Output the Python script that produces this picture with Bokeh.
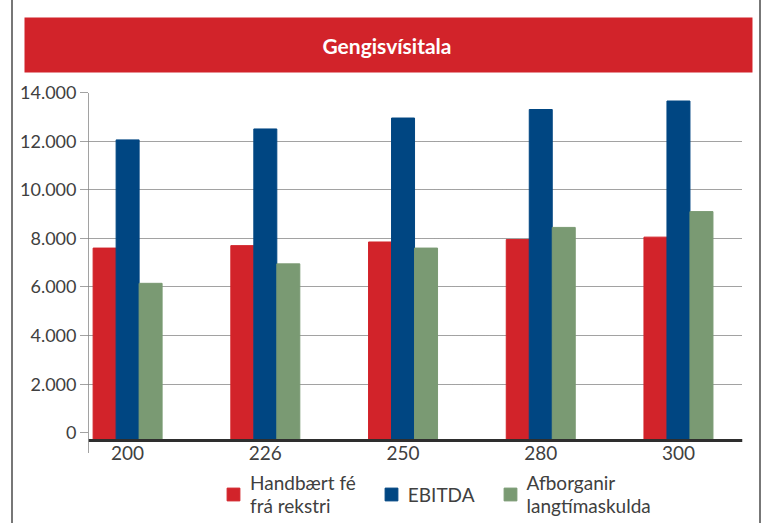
from bokeh.plotting import figure
from bokeh.models import (ColumnDataSource, Range1d, FixedTicker, Legend, LegendItem, Title)
from bokeh.transform import dodge
from bokeh.embed import file_html
from bokeh.resources import INLINE

# ---- data ----
title_text = "Gengisvísitala"
categories = ["200", "226", "250", "280", "300"]
handbaert = [7600, 7700, 7850, 7950, 8050]
ebitda = [12050, 12500, 12950, 13300, 13650]
afborganir = [6150, 6950, 7600, 8450, 9100]
series_names = ["Handbært fé\nfrá rekstri", "EBITDA", "Afborganir\nlangtímaskulda"]
y_ticks = [0, 2000, 4000, 6000, 8000, 10000, 12000, 14000]

RED = "#d2232a"
BLUE = "#004682"
GREEN = "#7a9a73"
TXT = "#404040"
GRID = "#444444"

xs = list(range(len(categories)))
src = ColumnDataSource(dict(x=xs, h=handbaert, e=ebitda, a=afborganir))

Y0 = -310        # axis baseline slightly below zero, as in the reference
Y_START = -3690  # room below the axis for tick labels and legend
BW = 0.167

p = figure(width=750, height=530,
           x_range=Range1d(-0.284, 4.465), y_range=Range1d(Y_START, 14000),
           toolbar_location=None, output_backend="svg",
           min_border_left=75, min_border_right=21, min_border_top=89,
           min_border_bottom=3, outline_line_color=None,
           background_fill_color="white", border_fill_color="white",
           styles={"border-left": "2px solid #777777", "border-top": "2px solid #777777",
                   "border-right": "2px solid #777777", "margin-left": "11px",
                   "margin-top": "-7px"})

r1 = p.vbar(x=dodge("x", -BW), top="h", bottom=Y0, width=BW, color=RED, source=src)
r2 = p.vbar(x=dodge("x", 0), top="e", bottom=Y0, width=BW, color=BLUE, source=src)
r3 = p.vbar(x=dodge("x", BW), top="a", bottom=Y0, width=BW, color=GREEN, source=src)

p.xgrid.visible = False
p.ygrid.ticker = FixedTicker(ticks=y_ticks[1:])
p.ygrid.grid_line_color = GRID
p.ygrid.grid_line_dash = "1 1"
p.ygrid.grid_line_width = 1

p.yaxis.ticker = FixedTicker(ticks=y_ticks)
p.yaxis.bounds = (Y0 - 500, 14000)
p.yaxis.major_label_overrides = {t: f"{t:,}".replace(",", ".") for t in y_ticks}
p.yaxis.major_label_text_font = "Lato"
p.yaxis.major_label_text_font_size = "18px"
p.yaxis.major_label_text_color = TXT
p.yaxis.major_label_standoff = 4
p.yaxis.major_tick_in = 0
p.yaxis.major_tick_out = 8
p.yaxis.major_tick_line_dash = "1 1"
p.yaxis.major_tick_line_color = GRID
p.yaxis.minor_tick_line_color = None
p.yaxis.axis_line_color = GRID
p.yaxis.axis_line_dash = "1 1"

p.xaxis.fixed_location = Y0
p.xaxis.ticker = FixedTicker(ticks=xs)
p.xaxis.major_label_overrides = {i: c for i, c in zip(xs, categories)}
p.xaxis.major_label_text_font = "Lato"
p.xaxis.major_label_text_font_size = "19px"
p.xaxis.major_label_text_color = TXT
p.xaxis.major_label_standoff = 0
p.xaxis.major_tick_line_color = None
p.xaxis.minor_tick_line_color = None
p.xaxis.axis_line_color = "#2e2e2e"
p.xaxis.axis_line_width = 3

legend = Legend(items=[LegendItem(label=series_names[0], renderers=[r1]),
                       LegendItem(label=series_names[1], renderers=[r2]),
                       LegendItem(label=series_names[2], renderers=[r3])],
                orientation="horizontal", location=(137, 5),
                glyph_width=16, glyph_height=16, label_standoff=9, spacing=27,
                padding=0, margin=0, border_line_color=None, background_fill_alpha=0,
                label_text_font="Lato", label_text_font_size="19px",
                label_text_color=TXT, label_text_line_height=1.05)
p.add_layout(legend, "center")

title = Title(text=title_text, align="left", offset=-64, vertical_align="bottom",
              text_color="white", text_font="Lato", text_font_style="bold",
              text_font_size="21px", background_fill_color=RED,
              padding=dict(left=298, right=301, top=15, bottom=15), standoff=40)
p.add_layout(title, "above")

open("out.html", "w").write(file_html(p, INLINE))
